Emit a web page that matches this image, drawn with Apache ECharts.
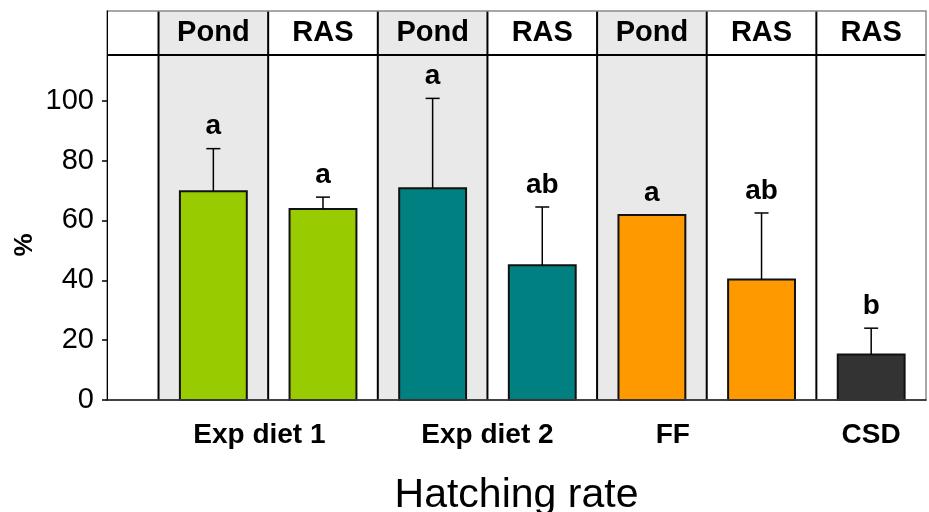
<!DOCTYPE html>
<html>
<head>
<meta charset="utf-8">
<script src="https://cdn.jsdelivr.net/npm/echarts@6/dist/echarts.min.js"></script>
<style>
  html, body { margin: 0; padding: 0; background: #fff; }
  #chart { width: 929px; height: 512px; }
</style>
</head>
<body>
<div id="chart"></div>
<script>
// Culture system of each column (left to right)
const columnSystems = ['Pond', 'RAS', 'Pond', 'RAS', 'Pond', 'RAS', 'RAS'];
// Diet of each column, as an index into dietGroups
const columnDiet = [0, 0, 1, 1, 2, 2, 3];
const dietGroups = ['Exp diet 1', 'Exp diet 2', 'FF', 'CSD'];
// Mean hatching rate (%) and upper error (SD)
const hatchingMean = [69.8, 63.8, 70.8, 45.0, 61.8, 40.3, 15.2];
const hatchingSD = [14.2, 4.0, 30.0, 19.5, 0, 22.2, 8.8];
// Significance letters
const sigLetters = ['a', 'a', 'a', 'ab', 'a', 'ab', 'b'];
// Y axis ticks
const yTicks = [0, 20, 40, 60, 80, 100];

// ---- layout / style ----
const FONT = "'Liberation Sans', Arial, sans-serif";
const Y_MAX = 130;          // top of the frame
const HEADER_BASE = 115.3;  // bottom line of the header row
const X_MIN = -0.47;
const X_MAX = columnSystems.length;
const BAR_W = 0.61;         // bar width in column units
const dietColors = ['#99CC00', '#008080', '#FF9900', '#333333'];
// where each diet label sits along the column axis
const dietLabelAt = [0.92, 3.0, 4.69, 6.5];

const chart = echarts.init(document.getElementById('chart'), null, { renderer: 'canvas' });

const columnData = columnSystems.map((s, i) => [i]);
const barData = hatchingMean.map((v, i) => [i, v, hatchingSD[i]]);

function renderColumn(params, api) {
  const i = api.value(0);
  const p0 = api.coord([i, Y_MAX]);
  const p1 = api.coord([i + 1, 0]);
  const hdr = api.coord([i + 0.5, (Y_MAX + HEADER_BASE) / 2]);
  const children = [];
  if (columnSystems[i] === 'Pond') {
    children.push({
      type: 'rect', z2: 0,
      shape: { x: p0[0], y: p0[1], width: p1[0] - p0[0], height: p1[1] - p0[1] },
      style: { fill: '#E9E9E9' }
    });
  }
  children.push({
    type: 'line', z2: 5,
    shape: { x1: p0[0], y1: p0[1], x2: p0[0], y2: p1[1] },
    style: { stroke: '#000', lineWidth: 2 }
  });
  const hl = api.coord([i === 0 ? X_MIN : i, HEADER_BASE]);
  const hr = api.coord([i + 1, HEADER_BASE]);
  children.push({
    type: 'line', z2: 10,
    shape: { x1: hl[0], y1: hl[1], x2: hr[0], y2: hr[1] },
    style: { stroke: '#000', lineWidth: 2 }
  });
  children.push({
    type: 'text', z2: 12, x: hdr[0], y: hdr[1],
    style: {
      text: columnSystems[i], fill: '#000',
      fontFamily: FONT, fontWeight: 'bold', fontSize: 29,
      align: 'center', verticalAlign: 'middle'
    }
  });
  return { type: 'group', children };
}

function renderBar(params, api) {
  const i = api.value(0);
  const v = api.value(1);
  const tl = api.coord([i + 0.5 - BAR_W / 2, v]);
  const br = api.coord([i + 0.5 + BAR_W / 2, 0]);
  return {
    type: 'rect',
    shape: { x: tl[0], y: tl[1], width: br[0] - tl[0], height: br[1] - tl[1] },
    style: { fill: dietColors[columnDiet[i]], stroke: '#111', lineWidth: 2 }
  };
}

function renderError(params, api) {
  const i = api.value(0);
  const v = api.value(1);
  const sd = api.value(2);
  const base = api.coord([i + 0.5, v]);
  const top = api.coord([i + 0.5, v + sd]);
  const children = [];
  if (sd > 0) {
    children.push({
      type: 'line',
      shape: { x1: base[0], y1: base[1], x2: top[0], y2: top[1] },
      style: { stroke: '#000', lineWidth: 1.5 }
    });
    children.push({
      type: 'line',
      shape: { x1: top[0] - 7, y1: top[1], x2: top[0] + 7, y2: top[1] },
      style: { stroke: '#000', lineWidth: 1.5 }
    });
  }
  children.push({
    type: 'text', x: top[0], y: top[1] - 8,
    style: {
      text: sigLetters[i], fill: '#000',
      fontFamily: FONT, fontWeight: 'bold', fontSize: 28,
      align: 'center', verticalAlign: 'bottom'
    }
  });
  return { type: 'group', children };
}

chart.setOption({
  animation: false,
  backgroundColor: '#fff',
  grid: {
    left: 107, right: 3, top: 11, bottom: 112,
    outerBoundsMode: 'none', containLabel: false,
    show: true, borderColor: '#8a8a8a', borderWidth: 1.5,
    backgroundColor: 'transparent', z: 5
  },
  xAxis: {
    type: 'value', min: X_MIN, max: X_MAX, z: 6,
    splitLine: { show: false },
    axisLine: { show: true, onZero: false, lineStyle: { color: '#222', width: 1.5 } },
    axisTick: { show: false },
    axisLabel: {
      customValues: dietLabelAt,
      formatter: (val) => {
        const k = dietLabelAt.findIndex(p => Math.abs(p - val) < 1e-6);
        return k >= 0 ? dietGroups[k] : '';
      },
      margin: 21,
      color: '#000', fontFamily: FONT, fontWeight: 'bold', fontSize: 28
    },
    name: 'Hatching rate',
    nameLocation: 'middle',
    nameGap: 75,
    nameTextStyle: { color: '#000', fontFamily: FONT, fontSize: 41 }
  },
  yAxis: {
    type: 'value', min: 0, max: Y_MAX, interval: 10, z: 6,
    splitLine: { show: false },
    axisLine: { show: true, onZero: false, lineStyle: { color: '#000', width: 1 } },
    axisTick: { show: true, customValues: yTicks, length: 5, lineStyle: { color: '#000', width: 1.5 } },
    axisLabel: {
      customValues: yTicks, margin: 13,
      color: '#000', fontFamily: FONT, fontSize: 29
    }
  },
  graphic: [{
    type: 'text', x: 25, y: 245, rotation: Math.PI / 2,
    style: {
      text: '%', fill: '#000', fontFamily: FONT, fontWeight: 'bold', fontSize: 26,
      align: 'center', verticalAlign: 'middle'
    }
  }],
  series: [
    { type: 'custom', name: 'columns', z: 1, renderItem: renderColumn, data: columnData, encode: { x: 0 } },
    { type: 'custom', name: 'hatching', z: 2, renderItem: renderBar, data: barData, encode: { x: 0, y: 1 } },
    { type: 'custom', name: 'error', z: 3, renderItem: renderError, data: barData, encode: { x: 0, y: 1 } }
  ]
});
</script>
</body>
</html>
